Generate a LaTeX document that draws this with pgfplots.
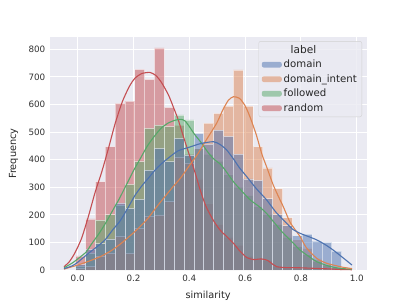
\documentclass[border=0pt]{standalone}
\usepackage{pgfplots}
\pgfplotsset{compat=1.18}
\usepackage{pgfplotstable}
\usepackage{fontspec}
\setmainfont{DejaVu Sans}
\definecolor{sbblue}{HTML}{4C72B0}
\definecolor{sborange}{HTML}{DD8452}
\definecolor{sbgreen}{HTML}{55A868}
\definecolor{sbred}{HTML}{C44E52}
\definecolor{sbbg}{HTML}{EAEAF2}
\pgfplotstableread{
e       dom  int  fol  ran
-0.0072 20   5    15   51
0.0281  75   12   60   185
0.0634  95   50   181  320
0.0987  112  60   200  447
0.1340  242  121  235  604
0.1693  223  60   310  612
0.2046  256  151  393  727
0.2399  362  193  513  691
0.2752  441  199  525  805
0.3105  393  248  520  589
0.3458  477  408  562  525
0.3811  417  387  544  420
0.4164  495  440  440  330
0.4517  457  532  420  240
0.4870  507  568  395  165
0.5223  484  594  345  120
0.5576  420  725  300  90
0.5929  330  594  270  50
0.6282  325  447  230  40
0.6635  258  370  200  35
0.6988  200  295  165  15
0.7341  160  190  120  8
0.7694  125  110  85   6
0.8047  130  80   55   5
0.8400  105  40   30   3
0.8753  100  20   18   2
0.9106  68   8    8    1
0.9459  68   8    8    1
}\bins
\pgfplotsset{
  sbbar/.style={ybar interval, fill=#1, draw=white, line width=0.7bp, opacity=0.5,
    legend image code/.code={\fill[#1, opacity=0.5, draw=none] (0bp,-2.8bp) rectangle (20bp,2.8bp);}},
  sbline/.style={#1, line width=1.1bp, no markers, smooth, tension=0.4, forget plot}
}
\begin{document}
\begin{tikzpicture}
\begin{axis}[
  scale only axis, width=316.7bp, height=232.9bp,
  xmin=-0.1, xmax=1.035, ymin=0, ymax=844,
  axis background/.style={fill=sbbg},
  axis line style={draw=none},
  grid=major, major grid style={white, line width=0.9bp},
  tick style={draw=none},
  xtick={0,0.2,0.4,0.6,0.8,1.0},
  xticklabels={0.0,0.2,0.4,0.6,0.8,1.0},
  ytick={0,100,200,300,400,500,600,700,800},
  yticklabels={0,100,200,300,400,500,600,700,800},
  ticklabel style={font=\fontsize{8.8}{10}\selectfont, text=black!80},
  xticklabel style={yshift=-1.5bp},
  yticklabel style={xshift=-1bp},
  label style={font=\fontsize{9.8}{11}\selectfont, text=black!85},
  xlabel={similarity}, ylabel={Frequency},
  xlabel style={at={(axis description cs:0.5,-0.112)}, anchor=center},
  ylabel style={at={(axis description cs:-0.114,0.5)}, anchor=center},
  reverse legend,
  legend cell align=left,
  legend style={at={(axis description cs:1,1)}, xshift=-4.5bp, yshift=-4bp, anchor=north east,
    fill=sbbg, fill opacity=0.8, text opacity=1, draw=black!18, rounded corners=2bp,
    font=\fontsize{10.2}{11}\selectfont, text=black!85, row sep=1.3bp, inner xsep=3bp, inner ysep=2bp},
]
\addplot[sbbar=sbred] table[x=e, y=ran]{\bins};
\addlegendentry{random}
\addplot[sbbar=sbgreen] table[x=e, y=fol]{\bins};
\addlegendentry{followed}
\addplot[sbbar=sborange] table[x=e, y=int]{\bins};
\addlegendentry{domain\_intent}
\addplot[sbbar=sbblue] table[x=e, y=dom]{\bins};
\addlegendentry{domain}
\addlegendimage{empty legend}
\addlegendentry{\hspace{7bp}\fontsize{10.6}{11}\selectfont label}

\addplot[sbline=sbred] coordinates {
(-0.049,12) (-0.03,30) (-0.01,62) (0.014,115) (0.038,193) (0.062,280) (0.086,355)
(0.11,440) (0.134,530) (0.16,610) (0.185,665) (0.205,695) (0.23,712) (0.259,716)
(0.28,705) (0.30,680) (0.325,635) (0.343,590) (0.36,545) (0.38,480) (0.402,411)
(0.42,355) (0.439,290) (0.46,230) (0.486,180) (0.51,145) (0.53,125) (0.558,97)
(0.58,70) (0.606,45) (0.63,38) (0.659,40) (0.68,35) (0.70,20) (0.713,12) (0.74,9)
(0.796,8) (0.85,6) (0.90,4) (0.94,2) (0.983,1)};
\addplot[sbline=sbgreen] coordinates {
(-0.049,8) (-0.02,25) (0.0,40) (0.03,65) (0.05,95) (0.075,130) (0.1,170) (0.125,215)
(0.15,260) (0.175,310) (0.2,360) (0.225,405) (0.25,450) (0.275,485) (0.3,515)
(0.325,533) (0.35,543) (0.37,546) (0.385,540) (0.40,520) (0.42,490) (0.44,465)
(0.468,425) (0.49,400) (0.51,385) (0.53,360) (0.558,320) (0.58,295) (0.617,255)
(0.65,230) (0.677,205) (0.71,165) (0.737,133) (0.77,100) (0.797,72) (0.83,48)
(0.857,30) (0.9,14) (0.94,6) (0.983,3)};
\addplot[sbline=sborange] coordinates {
(-0.049,3) (-0.04,6) (0.0,18) (0.04,32) (0.08,48) (0.12,70) (0.16,100) (0.211,145)
(0.25,185) (0.28,225) (0.307,259) (0.34,300) (0.37,335) (0.402,381) (0.43,420)
(0.46,470) (0.498,532) (0.52,580) (0.54,615) (0.558,628) (0.58,622) (0.6,595)
(0.617,556) (0.64,490) (0.66,420) (0.677,374) (0.70,310) (0.72,265) (0.737,229)
(0.76,175) (0.78,145) (0.797,121) (0.82,80) (0.857,42) (0.89,25) (0.916,18)
(0.95,10) (0.983,5)};
\addplot[sbline=sbblue] coordinates {
(-0.049,5) (-0.02,15) (0.0,28) (0.038,60) (0.07,85) (0.098,109) (0.125,145)
(0.152,178) (0.18,225) (0.205,270) (0.23,305) (0.255,335) (0.277,362) (0.3,385)
(0.33,410) (0.36,432) (0.4,445) (0.44,458) (0.486,465) (0.51,455) (0.534,435)
(0.56,400) (0.58,370) (0.606,338) (0.64,295) (0.677,254) (0.71,210) (0.749,169)
(0.77,148) (0.797,133) (0.83,120) (0.857,109) (0.89,90) (0.916,72) (0.95,45)
(0.983,18)};
\end{axis}
\path (current axis.south west) ++(-49.8bp,-35bp) coordinate (bl);
\path (current axis.north east) ++(40.5bp,37.1bp) coordinate (tr);
\pgfresetboundingbox
\path[use as bounding box] (bl) rectangle (tr);
\end{tikzpicture}
\end{document}
